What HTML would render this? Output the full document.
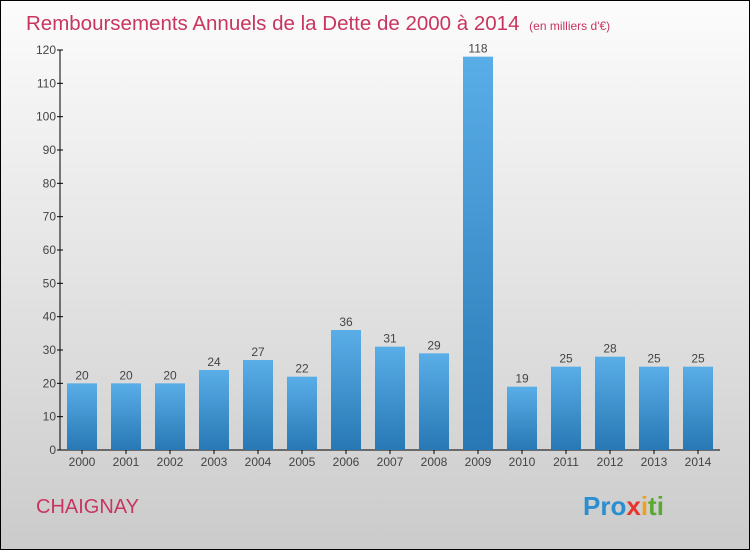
<!DOCTYPE html>
<html><head><meta charset="utf-8"><style>
html,body{margin:0;padding:0}
body{width:750px;height:550px;overflow:hidden;font-family:"Liberation Sans",sans-serif}
</style></head><body>
<svg width="750" height="550" xmlns="http://www.w3.org/2000/svg">
<defs>
<linearGradient id="bg" x1="0" y1="0" x2="0" y2="1"><stop offset="0" stop-color="#fcfcfc"/><stop offset="1" stop-color="#cbcbcb"/></linearGradient>
<linearGradient id="bar" x1="0" y1="0" x2="0" y2="1"><stop offset="0" stop-color="#5aaee8"/><stop offset="1" stop-color="#2778b4"/></linearGradient>
</defs>
<rect x="0.5" y="0.5" width="749" height="549" fill="url(#bg)" stroke="#000"/>
<text x="26" y="30" font-size="20.5" fill="#c8365f">Remboursements Annuels de la Dette de 2000 à 2014 <tspan font-size="12" dx="4">(en milliers d'€)</tspan></text>
<g id="axes"></g>
<g id="bars"></g>
<text x="36" y="513" font-size="20" fill="#c8365f">CHAIGNAY</text>
<text x="583" y="515" font-size="26" font-weight="bold"><tspan fill="#2a8fd0">Pro</tspan><tspan fill="#e8342c">x</tspan><tspan fill="#f0a020">i</tspan><tspan fill="#5aaa32">ti</tspan></text>
</svg>
<script>
const years=["2000","2001","2002","2003","2004","2005","2006","2007","2008","2009","2010","2011","2012","2013","2014"];
const values=[20,20,20,24,27,22,36,31,29,118,19,25,28,25,25];
const yTicks=[0,10,20,30,40,50,60,70,80,90,100,110,120];
const NS="http://www.w3.org/2000/svg";
const y0=450,yTop=50,yMax=120,x0=60;
const ys=v=>y0-(v/yMax)*(y0-yTop);
const xs=i=>82+i*44;
function mk(t,a,p){const e=document.createElementNS(NS,t);for(const k in a)e.setAttribute(k,a[k]);p.appendChild(e);return e;}
const ax=document.getElementById('axes'),bg=document.getElementById('bars');
let l=mk('line',{x1:x0,y1:yTop,x2:x0,y2:y0,stroke:'#000'},ax);


l=mk('line',{x1:x0,y1:y0,x2:720,y2:y0,stroke:'#000'},ax);


yTicks.forEach(v=>{
  const y=ys(v);
  mk('line',{x1:57,y1:y,x2:63,y2:y,stroke:'#000'},ax);
  const t=mk('text',{x:56,y:y+4,'font-size':12,fill:'#444','text-anchor':'end'},ax);t.textContent=v;
  
  
});
years.forEach((yr,i)=>{
  const cx=xs(i),v=values[i];
  mk('line',{x1:cx,y1:y0,x2:cx,y2:y0+4,stroke:'#000'},ax);
  const t=mk('text',{x:cx,y:466,'font-size':12,fill:'#444','text-anchor':'middle'},ax);t.textContent=yr;
  
  
  const r=mk('rect',{x:cx-15,y:ys(v),width:30,height:y0-ys(v),fill:'url(#bar)'},bg);
  
  
  const lb=mk('text',{x:cx,y:ys(v)-4,'font-size':12,fill:'#444','text-anchor':'middle'},bg);lb.textContent=v;
  
  
});
</script>
</body></html>
